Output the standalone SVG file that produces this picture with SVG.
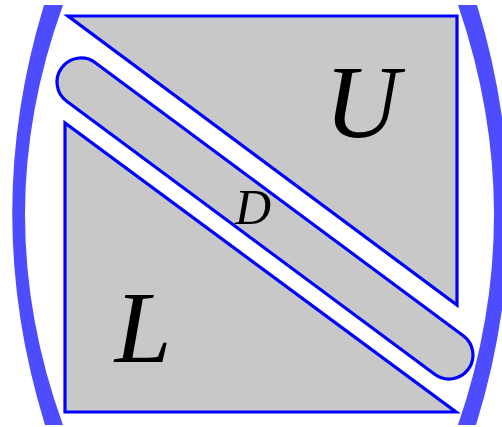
<svg xmlns="http://www.w3.org/2000/svg" width="502" height="427" viewBox="0 0 502 427">
<style>
.blk{fill:#c8c8c8;stroke:#0000ff;stroke-width:3.2;stroke-linejoin:miter}
.par{fill:#4d4dff;stroke:none}
.lbl{font-family:"Liberation Serif","DejaVu Serif",serif;font-style:italic;fill:#000;text-anchor:middle}
</style>
<rect width="502" height="427" fill="#ffffff"/>
<g id="left-paren">
<path class="par" d="M44,5 Q-20,215 45,425 L63,425 Q-13,215 63,5 Z"/>
</g>
<g id="right-paren">
<path class="par" d="M477,5 Q541,215 476,425 L458,425 Q530,215 458,5 Z"/>
</g>
<g id="U">
<polygon class="blk" points="68,16 457,16 457,305"/>
<text class="lbl" x="362" y="137" font-size="104">U</text>
</g>
<g id="L">
<polygon class="blk" points="65,123 65,412 456,412"/>
<text class="lbl" x="143" y="362" font-size="102">L</text>
</g>
<g id="D">
<rect class="blk" x="11.9" y="194.5" width="506.2" height="48" rx="24" ry="24" transform="rotate(36.57 265 218.5)"/>
<text class="lbl" x="253" y="224" font-size="50">D</text>
</g>
<g id="connectors"></g>
</svg>
